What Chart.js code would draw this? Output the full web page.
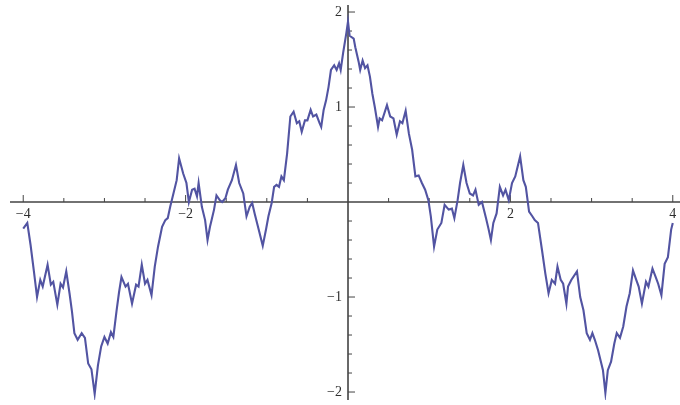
<!DOCTYPE html>
<html>
<head>
<meta charset="utf-8">
<script src="https://cdn.jsdelivr.net/npm/chart.js@4.4.0/dist/chart.umd.min.js"></script>
<style>
  html, body { margin: 0; padding: 0; background: #fff; }
  #wrap { width: 680px; height: 405px; }
</style>
</head>
<body>
<div id="wrap"><canvas id="plot"></canvas></div>
<script>
// sampled curve, x then y
const xs = [
  -4.00, -3.95, -3.91, -3.87, -3.83, -3.79, -3.76, -3.70, -3.66, -3.63,
  -3.58, -3.54, -3.51, -3.47, -3.43, -3.40, -3.37, -3.33, -3.28, -3.24,
  -3.20, -3.16, -3.12, -3.08, -3.04, -3.00, -2.96, -2.92, -2.89, -2.85,
  -2.82, -2.79, -2.74, -2.71, -2.66, -2.61, -2.58, -2.54, -2.50, -2.47,
  -2.42, -2.38, -2.34, -2.29, -2.25, -2.22, -2.19, -2.15, -2.11, -2.08,
  -2.03, -1.99, -1.96, -1.92, -1.89, -1.86, -1.84, -1.80, -1.76, -1.73,
  -1.70, -1.68, -1.65, -1.62, -1.58, -1.55, -1.51, -1.48, -1.43, -1.38,
  -1.34, -1.29, -1.25, -1.21, -1.18, -1.15, -1.10, -1.05, -1.01, -0.98,
  -0.94, -0.91, -0.88, -0.85, -0.82, -0.79, -0.75, -0.71, -0.67, -0.63,
  -0.60, -0.57, -0.53, -0.50, -0.46, -0.43, -0.39, -0.35, -0.33, -0.30,
  -0.27, -0.24, -0.21, -0.17, -0.14, -0.11, -0.09, -0.06, -0.02, 0.00,
  0.02, 0.07, 0.09, 0.13, 0.15, 0.18, 0.21, 0.24, 0.27, 0.30,
  0.33, 0.37, 0.39, 0.42, 0.48, 0.52, 0.56, 0.60, 0.64, 0.67,
  0.71, 0.75, 0.79, 0.83, 0.87, 0.91, 0.95, 0.99, 1.02, 1.06,
  1.10, 1.15, 1.19, 1.24, 1.28, 1.31, 1.35, 1.38, 1.42, 1.46,
  1.50, 1.54, 1.57, 1.61, 1.65, 1.70, 1.73, 1.76, 1.79, 1.83,
  1.87, 1.91, 1.94, 1.98, 2.02, 2.06, 2.12, 2.16, 2.19, 2.23,
  2.27, 2.30, 2.34, 2.39, 2.43, 2.47, 2.51, 2.55, 2.58, 2.62,
  2.65, 2.69, 2.71, 2.75, 2.82, 2.86, 2.90, 2.94, 2.98, 3.01,
  3.04, 3.08, 3.12, 3.14, 3.17, 3.20, 3.24, 3.28, 3.31, 3.35,
  3.39, 3.43, 3.47, 3.51, 3.55, 3.58, 3.62, 3.67, 3.70, 3.75,
  3.79, 3.82, 3.86, 3.90, 3.94, 3.98, 4.00
];
const ys = [
  -0.28, -0.22, -0.45, -0.72, -1.00, -0.82, -0.89, -0.66, -0.87, -0.84,
  -1.08, -0.86, -0.90, -0.73, -0.96, -1.15, -1.38, -1.45, -1.38, -1.43,
  -1.70, -1.76, -2.02, -1.72, -1.52, -1.42, -1.49, -1.37, -1.42, -1.14,
  -0.95, -0.79, -0.89, -0.86, -1.07, -0.87, -0.89, -0.66, -0.86, -0.82,
  -0.98, -0.68, -0.47, -0.26, -0.19, -0.17, -0.05, 0.09, 0.23, 0.46,
  0.30, 0.20, 0.00, 0.13, 0.14, 0.06, 0.20, -0.05, -0.19, -0.40,
  -0.26, -0.19, -0.08, 0.07, 0.02, 0.00, 0.04, 0.13, 0.23, 0.39,
  0.20, 0.09, -0.15, -0.05, -0.01, -0.12, -0.29, -0.46, -0.29, -0.15,
  -0.01, 0.16, 0.18, 0.16, 0.27, 0.23, 0.51, 0.90, 0.95, 0.83,
  0.85, 0.74, 0.86, 0.86, 0.97, 0.90, 0.92, 0.83, 0.79, 0.97,
  1.07, 1.21, 1.39, 1.44, 1.39, 1.46, 1.39, 1.57, 1.78, 1.90,
  1.75, 1.72, 1.63, 1.48, 1.39, 1.49, 1.41, 1.44, 1.32, 1.14,
  1.00, 0.79, 0.88, 0.86, 1.02, 0.90, 0.88, 0.71, 0.85, 0.83,
  0.96, 0.72, 0.55, 0.27, 0.28, 0.20, 0.13, 0.02, -0.15, -0.47,
  -0.29, -0.22, -0.03, -0.08, -0.07, -0.17, 0.02, 0.20, 0.39, 0.20,
  0.09, 0.07, 0.13, -0.03, 0.00, -0.17, -0.28, -0.40, -0.22, -0.12,
  0.16, 0.07, 0.13, 0.02, 0.20, 0.27, 0.48, 0.23, 0.16, -0.10,
  -0.15, -0.19, -0.22, -0.51, -0.75, -0.96, -0.82, -0.86, -0.68, -0.82,
  -0.86, -1.07, -0.89, -0.82, -0.73, -1.00, -1.14, -1.38, -1.45, -1.38,
  -1.45, -1.56, -1.70, -1.77, -2.01, -1.77, -1.68, -1.49, -1.38, -1.43,
  -1.31, -1.10, -0.96, -0.72, -0.82, -0.89, -1.07, -0.84, -0.89, -0.70,
  -0.79, -0.86, -0.98, -0.65, -0.58, -0.29, -0.22
];

const xTicks = [-4, -2, 2, 4];
const xTickLabels = ['−4', '−2', '2', '4'];
const yTicks = [-2, -1, 1, 2];
const yTickLabels = ['−2', '−1', '1', '2'];

const points = xs.map((x, i) => ({ x: x, y: ys[i] }));

// axes cross at the origin, ticks point into the plot
const crossAxes = {
  id: 'crossAxes',
  beforeDatasetsDraw(chart) {
    const { ctx, chartArea, scales: { x, y } } = chart;
    const x0 = x.getPixelForValue(0);
    const y0 = y.getPixelForValue(0);
    ctx.save();
    ctx.strokeStyle = '#444';
    ctx.lineWidth = 1.6;
    ctx.beginPath();
    ctx.moveTo(chartArea.left, y0);
    ctx.lineTo(chartArea.right, y0);
    ctx.moveTo(x0, chartArea.top);
    ctx.lineTo(x0, chartArea.bottom);
    ctx.stroke();

    ctx.lineWidth = 1;
    ctx.beginPath();
    for (let i = -8; i <= 8; i++) {
      if (i === 0) continue;
      const px = x.getPixelForValue(i * 0.5);
      const len = i % 4 === 0 ? 7 : 4;
      ctx.moveTo(px, y0);
      ctx.lineTo(px, y0 - len);
    }
    for (let i = -10; i <= 10; i++) {
      if (i === 0) continue;
      const py = y.getPixelForValue(i * 0.2);
      const len = i % 5 === 0 ? 7 : 4;
      ctx.moveTo(x0, py);
      ctx.lineTo(x0 + len, py);
    }
    ctx.stroke();

    ctx.fillStyle = '#2e2e2e';
    ctx.font = '14px "Liberation Serif", serif';
    ctx.textAlign = 'center';
    ctx.textBaseline = 'top';
    xTicks.forEach((v, i) => ctx.fillText(xTickLabels[i], x.getPixelForValue(v), y0 + 5));
    ctx.textAlign = 'right';
    ctx.textBaseline = 'middle';
    yTicks.forEach((v, i) => ctx.fillText(yTickLabels[i], x0 - 6, y.getPixelForValue(v)));
    ctx.restore();
  }
};

new Chart(document.getElementById('plot'), {
  type: 'line',
  data: {
    datasets: [{
      data: points,
      borderColor: '#5254a2',
      borderWidth: 2.1,
      pointRadius: 0,
      tension: 0,
      fill: false
    }]
  },
  options: {
    responsive: true,
    maintainAspectRatio: false,
    animation: false,
    layout: { padding: { left: 10, right: 0, top: 5, bottom: 5 } },
    plugins: { legend: { display: false }, tooltip: { enabled: false } },
    scales: {
      x: { type: 'linear', min: -4.163, max: 4.089, display: false },
      y: { type: 'linear', min: -2.084, max: 2.074, display: false }
    }
  },
  plugins: [crossAxes]
});
</script>
</body>
</html>
